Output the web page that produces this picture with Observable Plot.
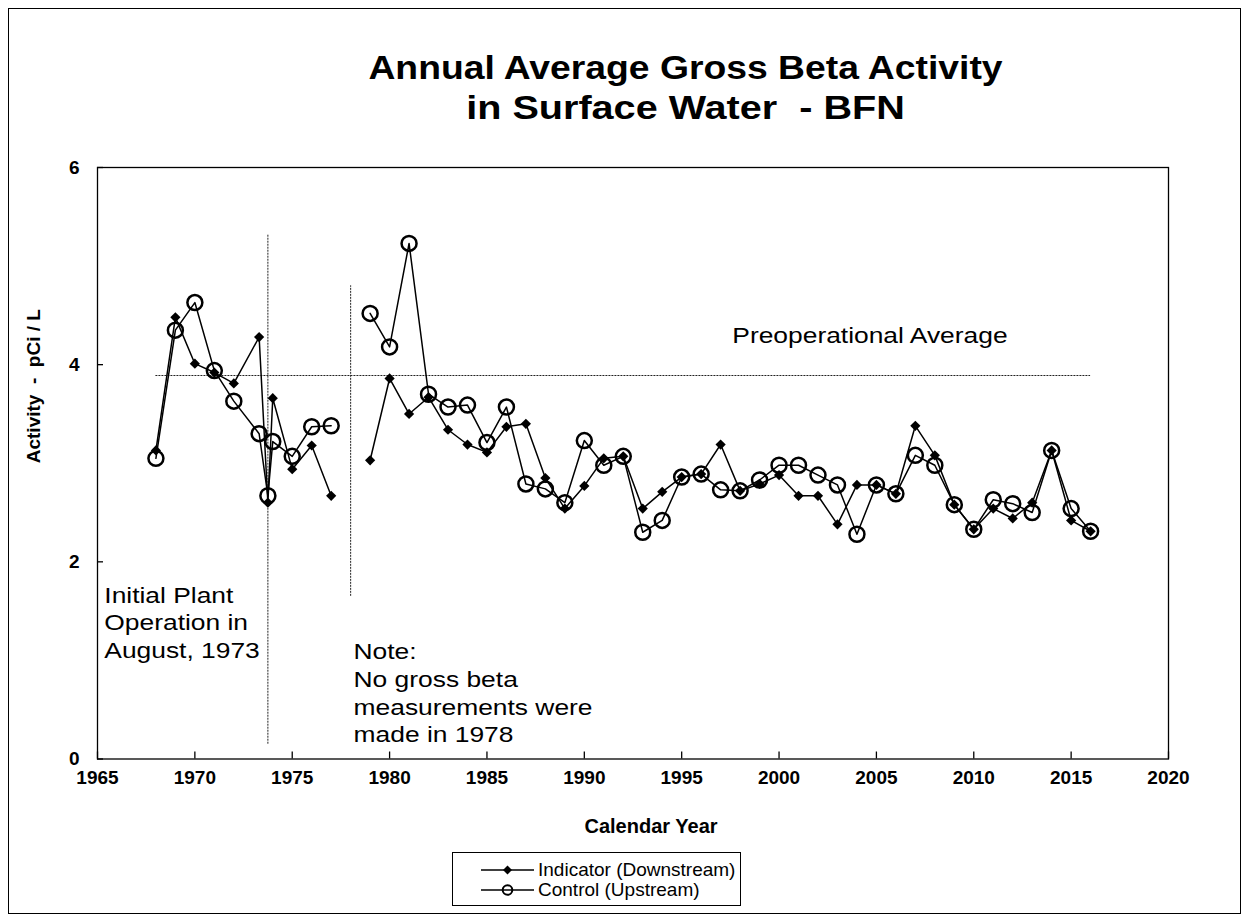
<!DOCTYPE html>
<html>
<head>
<meta charset="utf-8">
<script src="https://cdn.jsdelivr.net/npm/d3@7"></script>
<script src="https://cdn.jsdelivr.net/npm/@observablehq/plot@0.6"></script>
<style>
  body { margin: 0; background: #fff; font-family: "Liberation Sans", Arial, sans-serif; color: #000; }
  #wrap { position: relative; width: 1247px; height: 918px; overflow: hidden; background: #fff; }
  #border { position: absolute; left: 8px; top: 8px; width: 1233px; height: 906px; border: 1.5px solid #000; box-sizing: border-box; }
  #title { position: absolute; left: 62px; top: 48px; width: 1247px; text-align: center; font-weight: bold; font-size: 33px; line-height: 40px; white-space: pre; }
  #title div { transform: scaleX(1.13); }
  #title div:nth-child(2) { transform: scaleX(1.2); }
  #chart { position: absolute; left: 0; top: 140px; }
  #legend { position: absolute; left: 452px; top: 852px; width: 289px; height: 54px; border: 1.5px solid #000; box-sizing: border-box; padding-top: 7px; padding-left: 28px; font-size: 19px; }
  #legend .row { display: flex; align-items: center; height: 20px; line-height: 20px; }
  #legend svg { margin-right: 3px; flex: none; }
</style>
</head>
<body>
<div id="wrap">
  <div id="border"></div>
  <div id="title"></div>
  <div id="chart"></div>
  <div id="legend"></div>
</div>
<script>
// ---- data ----
const titleLines = ["Annual Average Gross Beta Activity", "in Surface Water  - BFN"];
const seriesNames = ["Indicator (Downstream)", "Control (Upstream)"];
const years = [1968, 1969, 1970, 1971, 1972, 1973.3, 1973.75, 1974, 1975, 1976, 1977, 1978,
  1979, 1980, 1981, 1982, 1983, 1984, 1985, 1986, 1987, 1988, 1989, 1990, 1991, 1992,
  1993, 1994, 1995, 1996, 1997, 1998, 1999, 2000, 2001, 2002, 2003, 2004, 2005, 2006,
  2007, 2008, 2009, 2010, 2011, 2012, 2013, 2014, 2015, 2016];
const indicator = [3.13, 4.48, 4.01, 3.92, 3.81, 4.28, 2.60, 3.66, 2.94, 3.18, 2.67, null,
  3.03, 3.86, 3.50, 3.67, 3.34, 3.19, 3.11, 3.37, 3.40, 2.85, 2.54, 2.77, 3.05, 3.07,
  2.54, 2.71, 2.86, 2.89, 3.19, 2.72, 2.79, 2.88, 2.67, 2.67, 2.38, 2.78, 2.78, 2.69,
  3.38, 3.08, 2.58, 2.33, 2.54, 2.44, 2.60, 3.13, 2.42, 2.31];
const control = [3.05, 4.35, 4.63, 3.94, 3.63, 3.30, 2.67, 3.22, 3.07, 3.37, 3.38, null,
  4.52, 4.18, 5.23, 3.70, 3.57, 3.59, 3.21, 3.57, 2.79, 2.74, 2.60, 3.23, 2.98, 3.07,
  2.30, 2.42, 2.86, 2.89, 2.73, 2.72, 2.83, 2.98, 2.98, 2.88, 2.78, 2.28, 2.78, 2.69,
  3.08, 2.98, 2.58, 2.33, 2.63, 2.59, 2.50, 3.13, 2.54, 2.31];
const xTicks = [1965, 1970, 1975, 1980, 1985, 1990, 1995, 2000, 2005, 2010, 2015, 2020];
const yTicks = [0, 2, 4, 6];
const preopAverage = [{y: 3.89, x1: 1968, x2: 2016}];
const markerLines = [{x: 1973.75, y1: 0.15, y2: 5.32}, {x: 1978, y1: 1.65, y2: 4.8}];
const notes = [
  {x: 1965.35, y: 1.395, text: "Initial Plant\nOperation in\nAugust, 1973"},
  {x: 1978.15, y: 0.68, text: "Note:\nNo gross beta\nmeasurements were\nmade in 1978"},
  {x: 1997.6, y: 4.31, text: "Preoperational Average"}
];
const xLabel = "Calendar Year";
const yLabel = "Activity \u00A0-\u00A0 pCi / L";

// ---- table ----
const rows = years.map((year, i) => ({year, indicator: indicator[i], control: control[i]}));

// ---- title ----
d3.select("#title").selectAll("div").data(titleLines).join("div").text(d => d);

// ---- chart ----
const W = 1247, H = 705, mT = 27, mB = 86.5, mL = 97, mR = 79;
const frameW = W - mL - mR, frameH = H - mT - mB;
const chart = Plot.plot({
  width: W,
  height: H,
  marginTop: mT,
  marginBottom: mB,
  marginLeft: mL,
  marginRight: mR,
  style: {fontFamily: "'Liberation Sans', Arial, sans-serif", color: "#000", background: "transparent", overflow: "visible"},
  x: {domain: [1965, 2020]},
  y: {domain: [0, 6]},
  marks: [
    Plot.frame({stroke: "#000", strokeWidth: 1.3}),
    Plot.axisX({ticks: xTicks, tickFormat: d => String(d), tickSize: 0, tickPadding: 11, fontSize: 19, fontWeight: "bold", label: null}),
    Plot.axisY({ticks: yTicks, tickFormat: d => String(d), tickSize: 0, tickPadding: 18, fontSize: 19, fontWeight: "bold", label: null}),
    // inward tick marks
    Plot.tickX(xTicks, {x: d => d, insetTop: frameH - 7, stroke: "#000", strokeWidth: 1.3}),
    Plot.tickY(yTicks, {y: d => d, insetRight: frameW - 6, stroke: "#000", strokeWidth: 1.3}),
    Plot.ruleY(preopAverage, {y: "y", x1: "x1", x2: "x2", stroke: "#222", strokeWidth: 1, strokeDasharray: "2,1"}),
    Plot.ruleX(markerLines, {x: "x", y1: "y1", y2: "y2", stroke: "#222", strokeWidth: 1, strokeDasharray: "2,1"}),
    Plot.line(rows, {x: "year", y: "indicator", stroke: "#000", strokeWidth: 1.5}),
    Plot.dot(rows, {x: "year", y: "indicator", symbol: "diamond2", r: 4.6, fill: "#000", stroke: "none"}),
    Plot.line(rows, {x: "year", y: "control", stroke: "#000", strokeWidth: 1.5}),
    Plot.dot(rows, {x: "year", y: "control", symbol: "circle", r: 7.5, stroke: "#000", strokeWidth: 2.5, fill: "none"}),
    Plot.text(notes, {x: "x", y: "y", text: "text", textAnchor: "start", lineAnchor: "middle", lineHeight: 1.26, fontSize: 22, fill: "#000"}),
    Plot.text([yLabel], {text: d => d, frameAnchor: "left", rotate: -90, dx: -64, fontSize: 19, fontWeight: "bold", fill: "#000"}),
    Plot.text([xLabel], {text: d => d, frameAnchor: "bottom", dy: 74, dx: 18, fontSize: 20, fontWeight: "bold", fill: "#000"})
  ]
});
// widen annotation lettering to match the reference's proportions
const noteStarts = notes.map(n => n.text.split("\n")[0]);
chart.querySelectorAll("text").forEach(t => {
  const s = t.textContent;
  if (noteStarts.some(p => s.startsWith(p))) {
    t.setAttribute("transform", (t.getAttribute("transform") || "") + " scale(1.2,1)");
  }
});
document.getElementById("chart").appendChild(chart);

// ---- legend ----
const legendRows = d3.select("#legend").selectAll("div").data(seriesNames).join("div").attr("class", "row");
const sw = legendRows.append("svg").attr("width", 54).attr("height", 20);
sw.append("line").attr("x1", 0).attr("x2", 53).attr("y1", 10).attr("y2", 10).attr("stroke", "#000").attr("stroke-width", 1.5);
sw.each(function(d, i) {
  const s = d3.select(this);
  if (i === 0) s.append("path").attr("d", "M26.5,5.5L31,10L26.5,14.5L22,10Z").attr("fill", "#000");
  else s.append("circle").attr("cx", 26.5).attr("cy", 10).attr("r", 4.8).attr("fill", "none").attr("stroke", "#000").attr("stroke-width", 2);
});
legendRows.append("span").text(d => d);
</script>
</body>
</html>
